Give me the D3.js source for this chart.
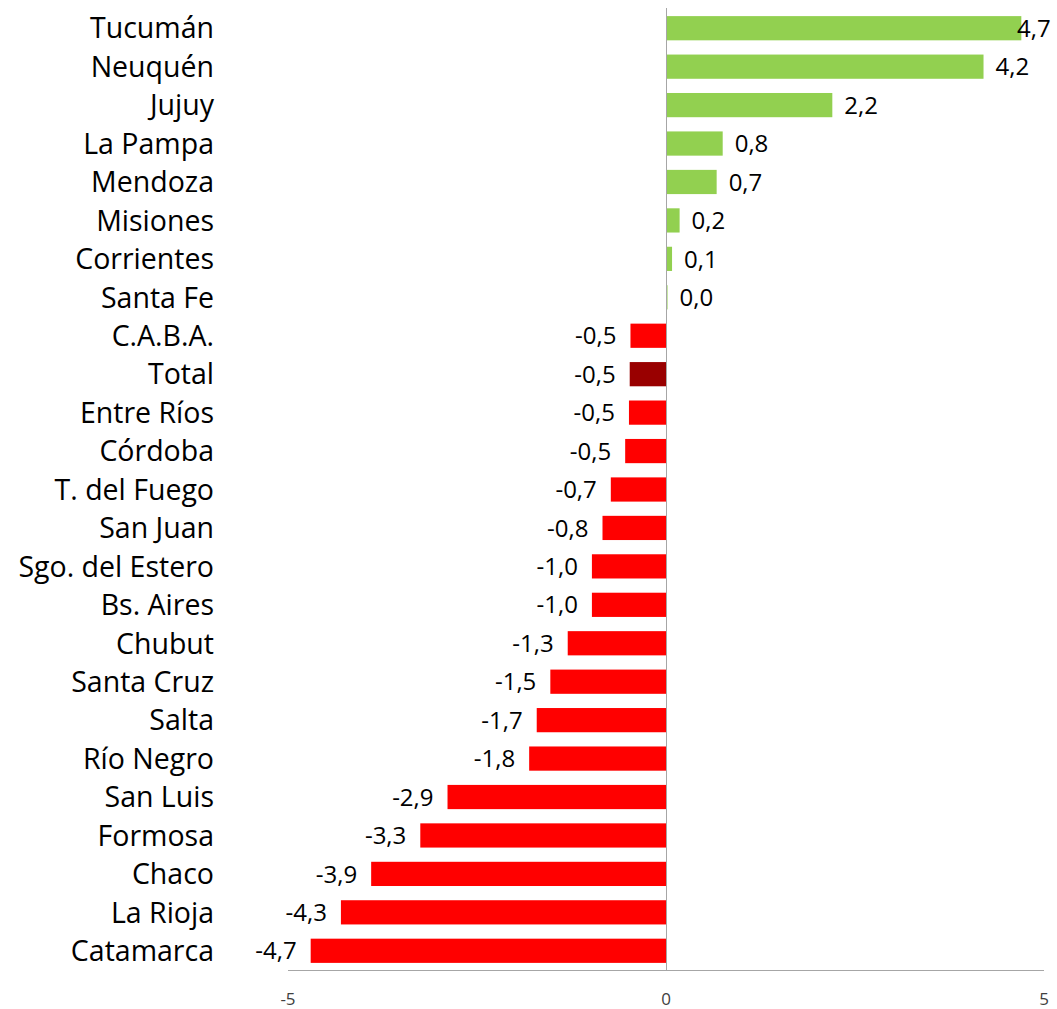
<!DOCTYPE html>
<html>
<head>
<meta charset="utf-8">
<script src="https://cdn.jsdelivr.net/npm/d3@7"></script>
<style>
  body { margin: 0; background: #fff; }
  svg { display: block; font-family: "Open Sans", sans-serif; }
</style>
</head>
<body>
<script>
// provincias y variación (%)
const provincias = ['Tucumán', 'Neuquén', 'Jujuy', 'La Pampa', 'Mendoza', 'Misiones', 'Corrientes',
  'Santa Fe', 'C.A.B.A.', 'Total', 'Entre Ríos', 'Córdoba', 'T. del Fuego', 'San Juan',
  'Sgo. del Estero', 'Bs. Aires', 'Chubut', 'Santa Cruz', 'Salta', 'Río Negro', 'San Luis',
  'Formosa', 'Chaco', 'La Rioja', 'Catamarca'];
const valores = [4.7, 4.2, 2.2, 0.75, 0.67, 0.18, 0.08, 0.02, -0.47, -0.48, -0.49, -0.54, -0.73, -0.84,
  -0.98, -0.98, -1.3, -1.53, -1.71, -1.81, -2.89, -3.25, -3.9, -4.3, -4.7];
const etiquetas = ['4,7', '4,2', '2,2', '0,8', '0,7', '0,2', '0,1', '0,0', '-0,5', '-0,5', '-0,5', '-0,5',
  '-0,7', '-0,8', '-1,0', '-1,0', '-1,3', '-1,5', '-1,7', '-1,8', '-2,9', '-3,3', '-3,9', '-4,3', '-4,7'];
const ticks = [-5, 0, 5];

const W = 1057, H = 1009;
const data = provincias.map((p, i) => ({ p: p, v: valores[i], t: etiquetas[i] }));

const svg = d3.select(document.body)
  .append('svg')
  .attr('width', W)
  .attr('height', H);

const x = d3.scaleLinear()
  .domain([-5, 5])
  .range([288, 1044]);

const y = d3.scaleBand()
  .domain(provincias)
  .range([9, 970])
  .paddingInner(0.37)
  .paddingOuter(0.185);

// barras
svg.append('g')
  .selectAll('rect')
  .data(data)
  .enter()
  .append('rect')
  .attr('x', d => x(Math.min(0, d.v)))
  .attr('y', d => y(d.p))
  .attr('width', d => Math.max(1, Math.abs(x(d.v) - x(0))))
  .attr('height', y.bandwidth())
  .attr('fill', d => d.p === 'Total' ? '#990000' : (d.v >= 0 ? '#92d050' : '#ff0000'));

// ejes
svg.append('line')
  .attr('x1', x(0) + 0.5).attr('x2', x(0) + 0.5)
  .attr('y1', 8).attr('y2', 970)
  .attr('stroke', '#a6a6a6');
svg.append('line')
  .attr('x1', x(-5)).attr('x2', x(5))
  .attr('y1', 970.5).attr('y2', 970.5)
  .attr('stroke', '#a6a6a6');

svg.append('g')
  .selectAll('text')
  .data(ticks)
  .enter()
  .append('text')
  .attr('x', d => x(d))
  .attr('y', 1005)
  .attr('text-anchor', 'middle')
  .attr('font-size', 17)
  .attr('fill', '#404040')
  .text(d => d);

// nombres
svg.append('g')
  .selectAll('text')
  .data(data)
  .enter()
  .append('text')
  .attr('x', 214)
  .attr('y', d => y(d.p) + y.bandwidth() / 2)
  .attr('dy', '0.36em')
  .attr('text-anchor', 'end')
  .attr('font-size', 28.5)
  .attr('fill', '#000')
  .text(d => d.p);

// valores
svg.append('g')
  .selectAll('text')
  .data(data)
  .enter()
  .append('text')
  .attr('x', d => d.v >= 0 ? Math.min(x(d.v) + 12, W - 40) : x(d.v) - 14)
  .attr('y', d => y(d.p) + y.bandwidth() / 2)
  .attr('dy', '0.36em')
  .attr('text-anchor', d => d.v >= 0 ? 'start' : 'end')
  .attr('font-size', 24)
  .attr('fill', '#000')
  .text(d => d.t);
</script>
</body>
</html>
